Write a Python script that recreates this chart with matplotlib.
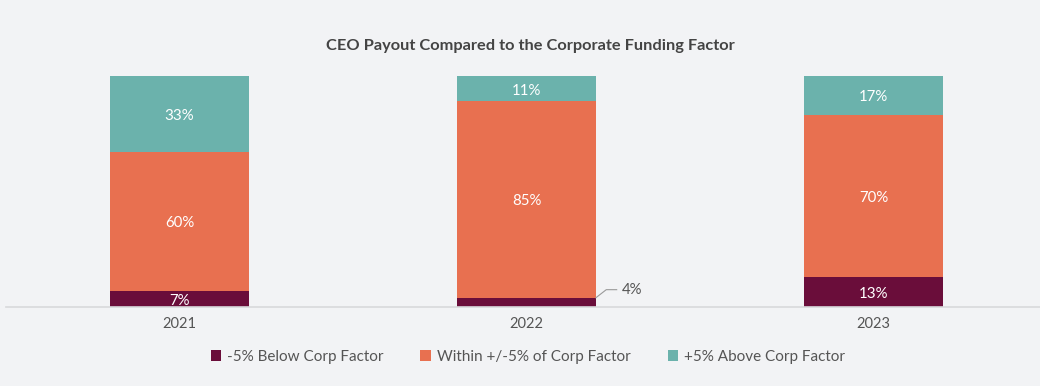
import matplotlib
matplotlib.use("Agg")
import matplotlib.pyplot as plt
import numpy as np

years = ["2021", "2022", "2023"]
below = [7, 4, 13]
within = [60, 85, 70]
above = [33, 11, 17]
series_names = ["-5% Below Corp Factor", "Within +/-5% of Corp Factor", "+5% Above Corp Factor"]
colors = ["#6A0D3A", "#E87050", "#6BB2AC"]

plt.rcParams['font.family'] = ['Lato', 'DejaVu Sans']
bg = "#F2F3F5"
fig = plt.figure(figsize=(10.4, 3.86), dpi=100, facecolor=bg)
ax = fig.add_axes([6/1040, 79/386, 1 - 6/1040, 231/386])
ax.set_facecolor(bg)

x = np.arange(len(years))
w = 0.4
bottoms = np.zeros(len(years))
for vals, col, name in zip([below, within, above], colors, series_names):
    bars = ax.bar(x, vals, w, bottom=bottoms, color=col, label=name, edgecolor="none")
    for i, (v, b) in enumerate(zip(vals, bottoms)):
        if v >= 6:
            ax.text(x[i], b + v / 2 - 0.8, f"{v}%", ha="center", va="center", color="white", fontsize=10.8)
        else:
            # leader line label
            xe = x[i] + w / 2
            ye = b + v
            ax.plot([xe, xe + 0.03, xe + 0.06], [ye, ye + 3.5, ye + 3.5], color="#9A9A9A", lw=0.8)
            ax.text(xe + 0.075, ye + 3.5, f"{v}%", ha="left", va="center", color="#555555", fontsize=10.8)
    bottoms = bottoms + np.array(vals)

ax.set_xlim(-0.5, 2.48)
ax.set_ylim(0, 100)
ax.set_xticks(x)
ax.set_xticklabels(years, fontsize=10.5, color="#555555")
ax.tick_params(axis="x", length=0, pad=7)
ax.set_yticks([])
for s in ["top", "right", "left"]:
    ax.spines[s].set_visible(False)
ax.spines["bottom"].set_color("#D8D9DB")
ax.spines["bottom"].set_linewidth(1.2)

fig.text(530/1040, 1 - 46/386, "CEO Payout Compared to the Corporate Funding Factor",
         ha="center", va="center", fontsize=11.8, fontweight="bold", color="#444444")

leg = fig.legend(loc="center", bbox_to_anchor=(528/1040, 1 - 357/386), ncol=3, frameon=False,
                 fontsize=11, handlelength=0.7, handleheight=0.7, handletextpad=0.4, columnspacing=2.4)
for t in leg.get_texts():
    t.set_color("#555555")

fig.savefig("out.png", dpi=100, facecolor=bg)
